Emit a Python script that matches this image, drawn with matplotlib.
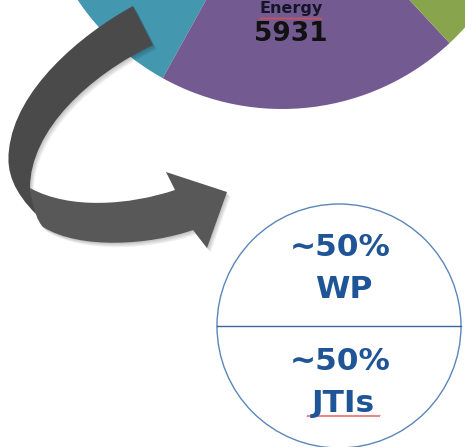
import numpy as np
import matplotlib
matplotlib.use("Agg")
import matplotlib.pyplot as plt
import matplotlib.transforms as mtransforms
from matplotlib.path import Path
from matplotlib.patches import PathPatch, Circle

W, H = 465, 447

# Horizon 2020 Societal Challenges budget (EUR million)
categories = ["Health", "Food", "Energy", "Transport", "Climate",
              "Inclusive societies", "Secure societies"]
budget = [7472, 3851, 5931, 6339, 3081, 1309, 1695]
colors = ["#4F81BD", "#4397AF", "#735B91", "#88A54D", "#C0504D",
          "#F79646", "#8DB4E2"]
highlight = 2  # Energy

split_pct = ["~50%", "~50%"]
split_names = ["WP", "JTIs"]

fig = plt.figure(figsize=(W / 100, H / 100), dpi=100)
ax = fig.add_axes([0, 0, 1, 1])


def P(x, y):
    return (x, H - y)


# ---- pie (mostly outside the canvas) ----
pie_cx, pie_cy, pie_r = 282, -137, 246
start = 241 - sum(budget[:highlight]) / sum(budget) * 360
ax.pie(budget, colors=colors, startangle=start, counterclock=True,
       center=P(pie_cx, pie_cy), radius=pie_r,
       wedgeprops=dict(linewidth=0))
ax.set_xlim(0, W)
ax.set_ylim(0, H)
ax.set_aspect("equal")
ax.axis("off")

ax.text(*P(291, 9), categories[highlight], fontsize=11.5, fontweight="bold",
        color="#15152a", ha="center", va="center", family="DejaVu Sans")
ax.text(*P(291, 34), f"{budget[highlight]}", fontsize=19, fontweight="bold",
        color="#111111", ha="center", va="center", family="DejaVu Sans")


def squiggle(x0, x1, y, color="#E05050"):
    xs = np.arange(x0, x1 + 0.1, 1.0)
    ys = y + np.array([(-0.8 if i % 2 else 0.8) for i in range(len(xs))])
    ax.plot(xs, H - ys, color=color, lw=0.6, solid_joinstyle="miter")


squiggle(260, 322, 18.5)

# ---- curved arrow ----
M, C, L, Z = Path.MOVETO, Path.CURVE4, Path.LINETO, Path.CLOSEPOLY


def make_path(segs):
    verts, codes = [], []
    for code, pts in segs:
        for p in pts:
            verts.append(P(*p))
            codes.append(code)
    verts.append(verts[0])
    codes.append(Z)
    return Path(verts, codes)


dark = [(M, [(133, 6)]),
        (C, [(80, 35), (15, 90), (9, 150)]),
        (C, [(6, 172), (14, 192), (36, 214)]),
        (L, [(30, 188)]),
        (C, [(30, 130), (90, 75), (153, 45)])]
light = [(M, [(30, 188)]),
         (C, [(70, 210), (130, 205), (175, 190)]),
         (L, [(166, 172)]),
         (L, [(227, 192)]),
         (L, [(207, 248)]),
         (L, [(193, 230)]),
         (C, [(150, 245), (80, 250), (43, 227)]),
         (C, [(38, 222), (33, 210), (30, 188)])]

for segs in (dark, light):
    path = make_path(segs)
    for k in range(1, 5):
        off = mtransforms.offset_copy(ax.transData, fig=fig, x=k * 0.9,
                                      y=-k * 1.1, units="dots")
        ax.add_patch(PathPatch(path, facecolor="#000000", edgecolor="none",
                               alpha=0.06, transform=off))
ax.add_patch(PathPatch(make_path(dark), facecolor="#4A4A4A", edgecolor="none"))
ax.add_patch(PathPatch(make_path(light), facecolor="#585858", edgecolor="none"))

# ---- split circle ----
ccx, ccy, cr = 339, 326, 122
ax.add_patch(Circle(P(ccx, ccy), cr, facecolor="white", edgecolor="#5B86B8",
                    lw=1.0))
ax.plot([ccx - cr, ccx + cr], [H - ccy, H - ccy], color="#3A6699", lw=1.0)

txt_color = "#1F5597"
fs = 22.5
ax.text(*P(340, 248), split_pct[0], fontsize=fs, fontweight="bold",
        color=txt_color, ha="center", va="center")
ax.text(*P(344, 290), split_names[0], fontsize=fs, fontweight="bold",
        color=txt_color, ha="center", va="center")
ax.text(*P(340, 362), split_pct[1], fontsize=fs, fontweight="bold",
        color=txt_color, ha="center", va="center")
ax.text(*P(343, 403), split_names[1], fontsize=fs, fontweight="bold",
        color=txt_color, ha="center", va="center")
squiggle(307, 380, 416)

fig.savefig("out.png", dpi=100)
